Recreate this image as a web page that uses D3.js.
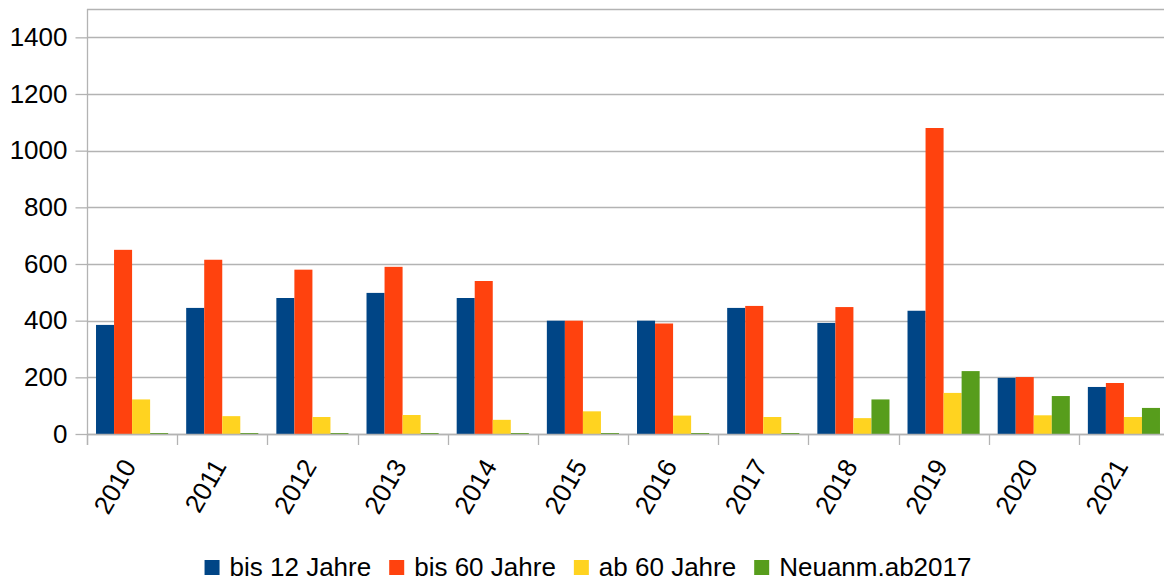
<!DOCTYPE html>
<html>
<head>
<meta charset="utf-8">
<script src="https://cdn.jsdelivr.net/npm/d3@7"></script>
<style>
  html, body { margin: 0; padding: 0; background: #fff; }
  svg { display: block; font-family: "Liberation Sans", Arial, sans-serif; }
</style>
</head>
<body>
<svg id="chart"></svg>
<script>
const years = ["2010","2011","2012","2013","2014","2015","2016","2017","2018","2019","2020","2021"];
const seriesNames = ["bis 12 Jahre", "bis 60 Jahre", "ab 60 Jahre", "Neuanm.ab2017"];
const bis12 = [385, 445, 480, 498, 480, 400, 400, 445, 392, 435, 198, 166];
const bis60 = [650, 615, 580, 590, 540, 400, 390, 452, 448, 1080, 201, 180];
const ab60  = [122, 63, 60, 67, 50, 80, 65, 60, 56, 145, 66, 60];
const neu   = [0, 0, 0, 0, 0, 0, 0, 0, 122, 222, 134, 92];
const yTicks = [0, 200, 400, 600, 800, 1000, 1200, 1400];
const colors = ["#004586", "#ff420e", "#ffd320", "#579d1c"];

const series = [bis12, bis60, ab60, neu];

const width = 1164, height = 582;
const plotLeft = 87, plotRight = 1169, plotTop = 9, plotBottom = 434;
const gridColor = "#b3b3b3";
const fontSize = 26;

const svg = d3.select("#chart").attr("width", width).attr("height", height);

const x = d3.scaleBand().domain(years).range([plotLeft, plotRight]).paddingInner(0).paddingOuter(0);
const xInner = d3.scaleBand().domain(d3.range(series.length)).range([0, x.bandwidth()]).paddingInner(0).paddingOuter(0.5);
const y = d3.scaleLinear().domain([0, 1500]).range([plotBottom, plotTop]);

// gridlines
svg.append("g").selectAll("line")
  .data(yTicks.concat([1500]))
  .join("line")
  .attr("x1", plotLeft).attr("x2", plotRight)
  .attr("y1", d => Math.round(y(d)) + 0.5).attr("y2", d => Math.round(y(d)) + 0.5)
  .attr("stroke", gridColor).attr("stroke-width", 1.3);

// y axis
const yAxis = svg.append("g").attr("transform", "translate(" + (plotLeft + 0.5) + ",0)")
  .call(d3.axisLeft(y).tickValues(yTicks).tickSize(12).tickPadding(8).tickFormat(d3.format("d")));
yAxis.select(".domain").remove();
yAxis.selectAll(".tick line").attr("stroke", gridColor).attr("stroke-width", 1.3);
yAxis.selectAll(".tick text").attr("font-size", fontSize).attr("fill", "#000")
  .attr("font-family", "Liberation Sans, Arial, sans-serif");
yAxis.append("line").attr("x1", 0).attr("x2", 0).attr("y1", plotTop).attr("y2", plotBottom + 11)
  .attr("stroke", gridColor).attr("stroke-width", 1.3);

// bars
const groups = svg.append("g").selectAll("g")
  .data(years)
  .join("g")
  .attr("transform", d => "translate(" + x(d) + ",0)");

groups.selectAll("rect")
  .data((d, i) => series.map((s, k) => ({ k: k, v: s[i] })))
  .join("rect")
  .attr("x", d => xInner(d.k))
  .attr("width", xInner.bandwidth())
  .attr("y", d => Math.min(y(d.v), plotBottom - 1))
  .attr("height", d => Math.max(plotBottom - y(d.v), 1))
  .attr("fill", d => colors[d.k]);

// x axis
const xAxisG = svg.append("g");
xAxisG.append("line").attr("x1", plotLeft).attr("x2", plotRight)
  .attr("y1", plotBottom + 0.5).attr("y2", plotBottom + 0.5)
  .attr("stroke", gridColor).attr("stroke-width", 1.3);
xAxisG.selectAll(".xtick")
  .data(d3.range(years.length + 1))
  .join("line")
  .attr("class", "xtick")
  .attr("x1", k => Math.round(plotLeft + k * x.step()) + 0.5)
  .attr("x2", k => Math.round(plotLeft + k * x.step()) + 0.5)
  .attr("y1", plotBottom).attr("y2", plotBottom + 11)
  .attr("stroke", gridColor).attr("stroke-width", 1.3);
xAxisG.selectAll(".xlabel")
  .data(years)
  .join("text")
  .attr("class", "xlabel")
  .attr("transform", d => "translate(" + (x(d) + x.bandwidth() / 2 + 5) + "," + 466 + ") rotate(-60)")
  .attr("text-anchor", "end")
  .attr("font-size", fontSize)
  .attr("fill", "#000")
  .text(d => d);

// legend
const legend = svg.append("g");
const items = legend.selectAll("g").data(seriesNames).join("g");
items.append("rect").attr("y", 560).attr("width", 15).attr("height", 15).attr("fill", (d, i) => colors[i]);
items.append("text").attr("x", 25).attr("y", 576).attr("font-size", fontSize).attr("fill", "#000").text(d => d);
let cx = 0;
items.each(function () {
  const w = this.querySelector("text").getComputedTextLength();
  this._x = cx;
  cx += 25 + w + 18;
});
const total = cx - 18;
const start = 588 - total / 2;
items.attr("transform", function () { return "translate(" + (start + this._x) + ",0)"; });
</script>
</body>
</html>
